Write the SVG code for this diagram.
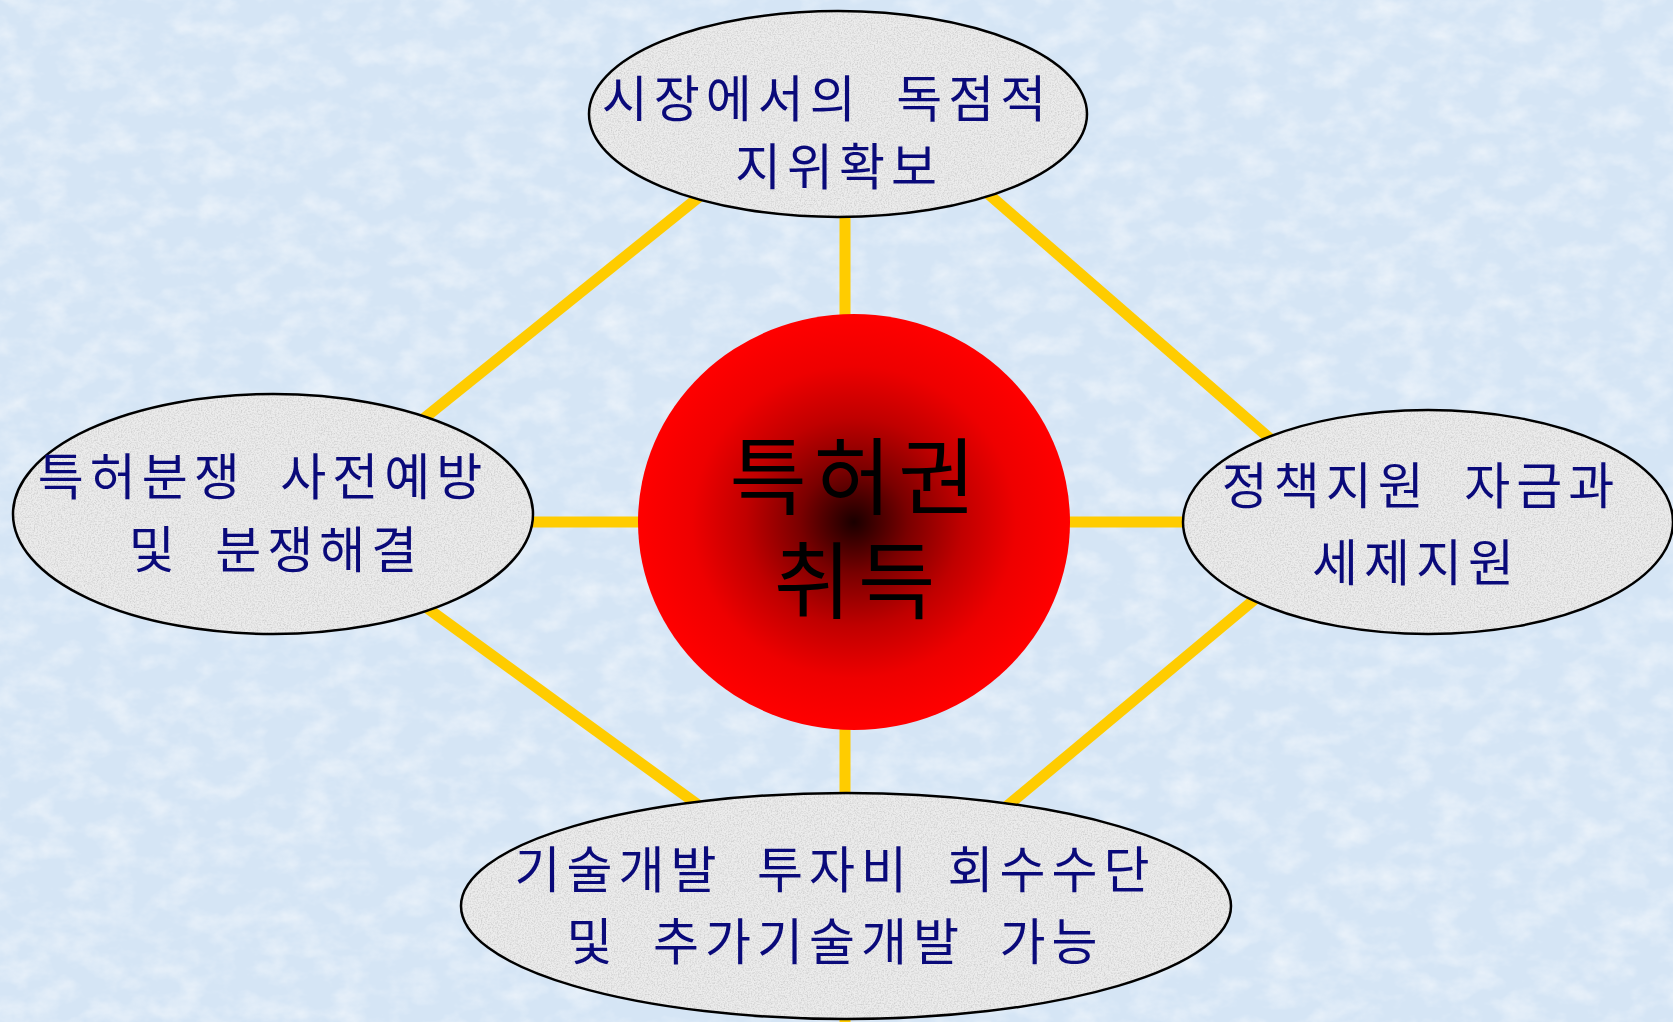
<svg xmlns="http://www.w3.org/2000/svg" width="1673" height="1022" viewBox="0 0 1673 1022">
<defs>
<style>
.lbl{font-family:"Noto Sans CJK KR","Noto Sans",sans-serif;font-size:50px;fill:#0a0a7a;text-anchor:middle;letter-spacing:6px;white-space:pre}
.ctr{font-family:"Noto Sans CJK KR","Noto Sans",sans-serif;font-size:84px;fill:#000;text-anchor:middle;letter-spacing:7px}
.conn{stroke:#ffcc00;stroke-width:11;fill:none}
.base{fill:#ececec}
.tex{fill:#fff;filter:url(#granite)}
.edge{fill:none;stroke:#000;stroke-width:2.5}
</style>
<filter id="granite" x="0" y="0" width="1" height="1">
<feTurbulence type="fractalNoise" baseFrequency="0.7" numOctaves="3" seed="4" result="t"/>
<feColorMatrix in="t" type="matrix" values="0 0 0 0 0.55 0 0 0 0 0.55 0 0 0 0 0.55 0 0 0 1.6 -0.64" result="g"/>
<feComposite in="g" in2="SourceGraphic" operator="in"/>
</filter>
<filter id="bgtex" x="0" y="0" width="1" height="1">
<feTurbulence type="fractalNoise" baseFrequency="0.03 0.045" numOctaves="4" seed="7" result="t"/>
<feColorMatrix in="t" type="matrix" values="0 0 0 0 1 0 0 0 0 1 0 0 0 0 1 0 0 0 1.8 -0.75"/>
</filter>
<radialGradient id="sphere" cx="0.5" cy="0.5" r="0.5">
<stop offset="0" stop-color="#1a0000"/>
<stop offset="0.25" stop-color="#7a0000"/>
<stop offset="0.5" stop-color="#c00000"/>
<stop offset="0.75" stop-color="#ee0000"/>
<stop offset="1" stop-color="#ff0000"/>
</radialGradient>
</defs>
<rect x="0" y="0" width="1673" height="1022" fill="#d5e5f5"/>
<rect x="0" y="0" width="1673" height="1022" fill="#fff" filter="url(#bgtex)" opacity="0.55"/>
<g id="connectors">
<line class="conn" x1="845" y1="114" x2="845" y2="1022"/>
<line class="conn" x1="273" y1="522" x2="1427" y2="522"/>
<line class="conn" x1="781" y1="131" x2="345" y2="482"/>
<line class="conn" x1="909" y1="125" x2="1351" y2="509"/>
<line class="conn" x1="1327" y1="539" x2="939" y2="863"/>
<line class="conn" x1="350" y1="552" x2="774" y2="860"/>
</g>
<g id="node-top">
<ellipse class="base" cx="838" cy="114" rx="249" ry="103"/>
<ellipse class="tex" cx="838" cy="114" rx="249" ry="103"/>
<ellipse class="edge" cx="838" cy="114" rx="249" ry="103"/>
<text class="lbl"><tspan x="827" y="117">시장에서의  독점적</tspan><tspan x="839" y="185">지위확보</tspan></text>
</g>
<g id="node-left">
<ellipse class="base" cx="273" cy="514" rx="260" ry="120"/>
<ellipse class="tex" cx="273" cy="514" rx="260" ry="120"/>
<ellipse class="edge" cx="273" cy="514" rx="260" ry="120"/>
<text class="lbl"><tspan x="263" y="495">특허분쟁  사전예방</tspan><tspan x="276" y="568">및  분쟁해결</tspan></text>
</g>
<g id="node-right">
<ellipse class="base" cx="1428" cy="522" rx="245" ry="112"/>
<ellipse class="tex" cx="1428" cy="522" rx="245" ry="112"/>
<ellipse class="edge" cx="1428" cy="522" rx="245" ry="112"/>
<text class="lbl"><tspan x="1421" y="504">정책지원  자금과</tspan><tspan x="1416" y="581">세제지원</tspan></text>
</g>
<g id="node-bottom">
<ellipse class="base" cx="846" cy="906" rx="385" ry="113"/>
<ellipse class="tex" cx="846" cy="906" rx="385" ry="113"/>
<ellipse class="edge" cx="846" cy="906" rx="385" ry="113"/>
<text class="lbl"><tspan x="835" y="888">기술개발  투자비  회수수단</tspan><tspan x="835" y="960">및  추가기술개발  가능</tspan></text>
</g>
<g id="node-center">
<ellipse cx="854" cy="522" rx="216" ry="208" fill="url(#sphere)"/>
<text class="ctr"><tspan x="856" y="508">특허권</tspan><tspan x="858" y="612">취득</tspan></text>
</g>
</svg>
